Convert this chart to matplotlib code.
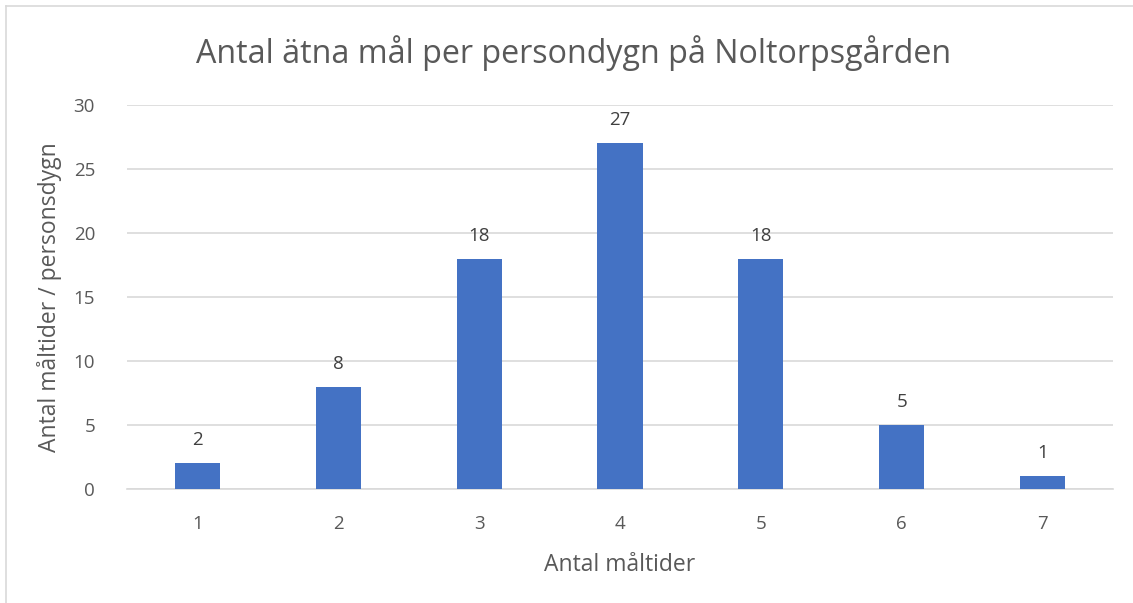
import matplotlib.pyplot as plt
import matplotlib.lines as mlines

# Données
categories = ["1", "2", "3", "4", "5", "6", "7"]
valeurs = [2, 8, 18, 27, 18, 5, 1]
graduations_y = [0, 5, 10, 15, 20, 25, 30]

plt.rcParams['font.family'] = ['Open Sans', 'DejaVu Sans']
gris = "#595959"

fig = plt.figure(figsize=(11.33, 6.03), dpi=100)
ax = fig.add_axes([127 / 1133, 1 - 489 / 603, (1113 - 127) / 1133, (489 - 105) / 603])

x = range(len(categories))
barres = ax.bar(x, valeurs, width=0.32, color="#4472C4", zorder=3)

for xi, v in zip(x, valeurs):
    ax.text(xi, v + 1.1, str(v), ha="center", va="bottom", fontsize=13.5, color="#404040")

ax.set_xlim(-0.5, len(categories) - 0.5)
ax.set_ylim(0, 30)
ax.set_yticks(graduations_y)
ax.set_xticks(list(x))
ax.set_xticklabels(categories)
ax.tick_params(axis="both", length=0, labelsize=13.5, labelcolor=gris)
ax.tick_params(axis="x", pad=19)
ax.tick_params(axis="y", pad=23)
ax.grid(axis="y", color="#D9D9D9", linewidth=1.2, zorder=0)
for s in ["top", "right", "left"]:
    ax.spines[s].set_visible(False)
ax.spines["bottom"].set_color("#D9D9D9")
ax.spines["bottom"].set_linewidth(1.2)

ax.set_xlabel("Antal måltider", fontsize=16.5, color=gris, labelpad=14)
ax.set_ylabel("Antal måltider / personsdygn", fontsize=16.5, color=gris, labelpad=8)

fig.text(574 / 1133, 1 - 53 / 603, "Antal ätna mål per persondygn på Noltorpsgården",
         ha="center", va="center", fontsize=23.2, color=gris)

# Cadre du graphique (gauche et haut)
fig.add_artist(mlines.Line2D([6 / 1133, 6 / 1133], [0, 1 - 6 / 603], color="#D9D9D9", linewidth=1.2))
fig.add_artist(mlines.Line2D([6 / 1133, 1], [1 - 6 / 603, 1 - 6 / 603], color="#D9D9D9", linewidth=1.2))

fig.savefig("out.png", dpi=100)
